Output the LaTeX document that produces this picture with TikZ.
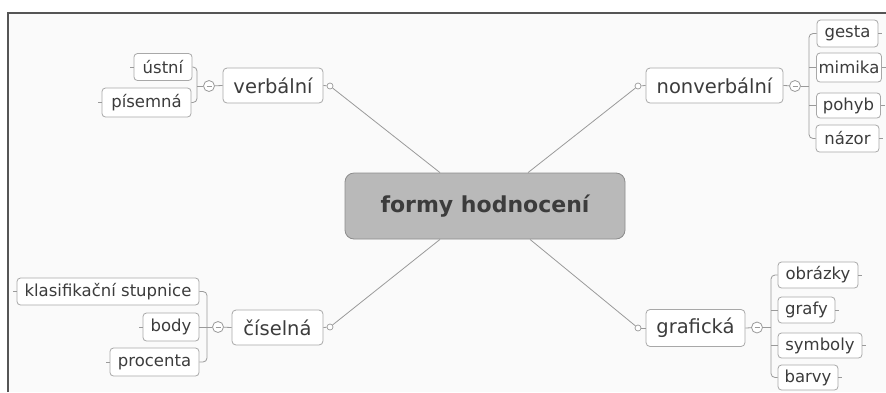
\documentclass[tikz,border=0pt]{standalone}
\usepackage{fontspec}
\setmainfont{DejaVu Sans}
\begin{document}
\begin{tikzpicture}[x=1pt,y=-1pt,
  link/.style={draw=linegray,line width=0.8pt},
  mainbox/.style={draw=boxgray,fill=white,rounded corners=4pt,line width=0.8pt,inner sep=0pt,
    minimum height=35pt,text=txtgray,font=\fontsize{19.5}{22}\selectfont},
  leaf/.style={draw=boxgray,fill=white,rounded corners=3.5pt,line width=0.8pt,inner sep=0pt,
    minimum height=27pt,text=txtgray,font=\fontsize{16.5}{19}\selectfont},
  knob/.style={circle,draw=linegray,fill=white,line width=0.7pt,minimum size=6pt,inner sep=0pt},
  minus/.style={circle,draw=linegray,fill=white,line width=0.8pt,minimum size=11pt,inner sep=0pt,
    path picture={\draw[linegray,line width=0.8pt] ([xshift=-2.5pt]path picture bounding box.center) -- ([xshift=2.5pt]path picture bounding box.center);}},
  br/.style={link,rounded corners=4pt}
]
\definecolor{linegray}{HTML}{9A9A9A}
\definecolor{boxgray}{HTML}{A8A8A8}
\definecolor{txtgray}{HTML}{3C3C3C}
\definecolor{framegray}{HTML}{555555}
\definecolor{centerfill}{HTML}{B9B9B9}
\definecolor{centerdraw}{HTML}{8C8C8C}
\definecolor{bggray}{HTML}{FAFAFA}

\useasboundingbox (0,0) rectangle (886,392);
\fill[white] (0,0) rectangle (886,392);
\fill[bggray] (8,13) rectangle (886,392);
\draw[framegray,line width=1.6pt] (8,392) -- (8,13) -- (886,13);

% central node
\node[draw=centerdraw,fill=centerfill,rounded corners=9pt,line width=0.8pt,minimum width=280pt,minimum height=66pt,inner sep=0pt,
  text=txtgray,font=\fontsize{22}{26}\selectfont\bfseries] (c) at (485,206) {formy hodnocení};

% main nodes
\node[mainbox,minimum width=100pt] (v) at (273,85.5) {verbální};
\node[mainbox,minimum width=137pt] (n) at (714.5,85.5) {nonverbální};
\node[mainbox,minimum width=91pt] (ci) at (277.5,327.5) {číselná};
\node[mainbox,minimum width=99pt,minimum height=37pt] (g) at (695.5,328) {grafická};

% knobs toward center
\node[knob] (vk) at (330,86) {};
\node[knob] (nk) at (638,86) {};
\node[knob] (cik) at (330,327) {};
\node[knob] (gk) at (638,328) {};
\draw[link] (v.east) -- (vk);
\draw[link] (n.west) -- (nk);
\draw[link] (ci.east) -- (cik);
\draw[link] (g.west) -- (gk);
\draw[link] (vk) -- (c.north -| 440,0);
\draw[link] (nk) -- (c.north -| 528,0);
\draw[link] (cik) -- (c.south -| 440,0);
\draw[link] (gk) -- (c.south -| 530,0);

% minus buttons
\node[minus] (vm) at (209,86) {};
\node[minus] (nm) at (795,86) {};
\node[minus] (cim) at (218,327) {};
\node[minus] (gm) at (757,327.5) {};
\draw[link] (vm) -- (v.west);
\draw[link] (nm) -- (n.east);
\draw[link] (cim) -- (ci.west);
\draw[link] (gm) -- (g.east);

% leaves: verbalni
\node[leaf,minimum width=58pt] (ustni) at (163,67) {ústní};
\node[leaf,minimum width=89pt,minimum height=29pt] (pisemna) at (146.5,102.5) {písemná};
\coordinate (vb) at (197,86);
\draw[br] (ustni.east) -| (vb) |- (pisemna.east);
\draw[link] (vm) -- (vb);
\draw[link] (ustni.west) -- ++(-4,0);
\draw[link] (pisemna.west) -- ++(-4,0);

% leaves: nonverbalni
\node[leaf,minimum width=61pt] (gesta) at (847.5,33.5) {gesta};
\node[leaf,minimum width=65pt,minimum height=29pt] (mimika) at (849,67.5) {mimika};
\node[leaf,minimum width=64pt,minimum height=25pt] (pohyb) at (848.5,105.5) {pohyb};
\node[leaf,minimum width=63pt] (nazor) at (847.5,138.5) {názor};
\coordinate (nb) at (809,86);
\draw[br] (gesta.west) -| (nb) |- (nazor.west);
\draw[link] (mimika.west) -- (mimika.west -| nb);
\draw[link] (pohyb.west) -- (pohyb.west -| nb);
\draw[link] (nm) -- (nb);
\draw[link] (gesta.east) -- ++(4,0);
\draw[link] (mimika.east) -- ++(4,0);
\draw[link] (pohyb.east) -- ++(4,0);
\draw[link] (nazor.east) -- ++(4,0);

% leaves: ciselna
\node[leaf,minimum width=182pt] (klas) at (108,291.5) {klasifikační stupnice};
\node[leaf,minimum width=56pt,minimum height=28pt] (body) at (171,327) {body};
\node[leaf,minimum width=89pt,minimum height=28pt] (proc) at (154.5,362) {procenta};
\coordinate (cb) at (207,327);
\draw[br] (klas.east) -| (cb) |- (proc.east);
\draw[link] (body.east) -- (cb);
\draw[link] (cim) -- (cb);
\draw[link] (klas.west) -- ++(-4,0);
\draw[link] (body.west) -- ++(-4,0);
\draw[link] (proc.west) -- ++(-4,0);

% leaves: graficka
\node[leaf,minimum width=80pt,minimum height=26pt] (obr) at (818,275) {obrázky};
\node[leaf,minimum width=57pt,minimum height=26pt] (grafy) at (806.5,310) {grafy};
\node[leaf,minimum width=84pt,minimum height=25pt] (sym) at (820,345.5) {symboly};
\node[leaf,minimum width=60pt,minimum height=25pt] (barvy) at (808,377.5) {barvy};
\coordinate (gb) at (771,327.5);
\draw[br] (obr.west) -| (gb) |- (barvy.west);
\draw[link] (grafy.west) -- (grafy.west -| gb);
\draw[link] (sym.west) -- (sym.west -| gb);
\draw[link] (gm) -- (gb);
\draw[link] (obr.east) -- ++(4,0);
\draw[link] (grafy.east) -- ++(4,0);
\draw[link] (sym.east) -- ++(4,0);
\draw[link] (barvy.east) -- ++(4,0);
\end{tikzpicture}
\end{document}
